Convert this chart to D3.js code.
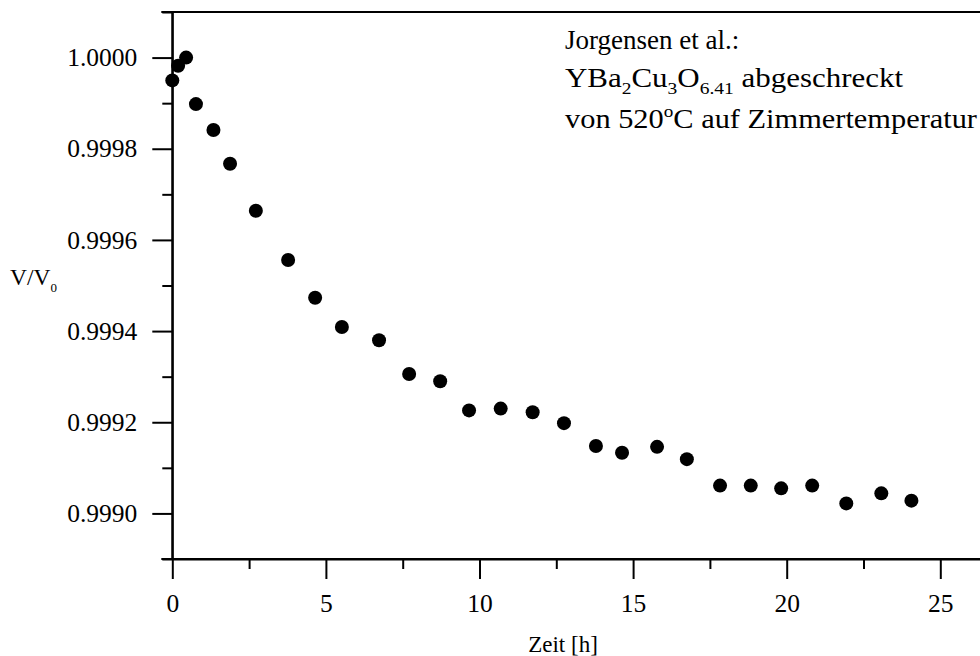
<!DOCTYPE html>
<html>
<head>
<meta charset="utf-8">
<script src="https://cdn.jsdelivr.net/npm/d3@7"></script>
<style>
  html, body { margin: 0; padding: 0; background: #fff; }
  svg { display: block; }
  text { font-family: "Liberation Serif", "Times New Roman", serif; fill: #000; }
</style>
</head>
<body>
<svg id="chart" width="980" height="656"></svg>
<script>
// time in hours
const timeH = [0.0, 0.19, 0.45, 0.77, 1.34, 1.88, 2.72, 3.77, 4.65, 5.52, 6.73, 7.71, 8.72, 9.66,
               10.69, 11.73, 12.75, 13.79, 14.64, 15.78, 16.75, 17.83, 18.83, 19.82, 20.83, 21.94, 23.08, 24.06];
// relative volume V/V0
const volRatio = [0.99995, 0.999982, 1.0000, 0.999898, 0.999841, 0.999767, 0.999664, 0.999556, 0.999473,
                  0.999409, 0.999380, 0.999306, 0.999290, 0.999226, 0.999230, 0.999222, 0.999198, 0.999148,
                  0.999133, 0.999146, 0.999119, 0.999061, 0.999061, 0.999055, 0.999061, 0.999022, 0.999044, 0.999028];
const xMajorTicks = [0, 5, 10, 15, 20, 25];
const xMinorTicks = [2.5, 7.5, 12.5, 17.5, 22.5];
const yMajorTicks = [0.9990, 0.9992, 0.9994, 0.9996, 0.9998, 1.0000];
const yMinorTicks = [0.9989, 0.9991, 0.9993, 0.9995, 0.9997, 0.9999, 1.0001];

(function () {
const svg = d3.select("#chart");
const serif = '"Liberation Serif", "Times New Roman", serif';
const leftX = 172.3, topY = 12, bottomY = 559;
const x = d3.scaleLinear().domain([0, 27]).range([leftX, leftX + 27 * 30.72]);
const y = d3.scaleLinear().domain([0.9989, 1.0001]).range([bottomY, topY]);

const axisW = 2;

// points
svg.append("g").selectAll("circle")
  .data(timeH.map((t, i) => [t, volRatio[i]]))
  .join("circle")
  .attr("cx", d => x(d[0]))
  .attr("cy", d => y(d[1]))
  .attr("r", 7)
  .attr("fill", "#000");

// left axis major
const gy = svg.append("g").attr("transform", `translate(${leftX},0)`)
  .call(d3.axisLeft(y).tickValues(yMajorTicks).tickFormat(d3.format(".4f")).tickSizeInner(20).tickSizeOuter(0).tickPadding(15));
const gyMinor = svg.append("g").attr("transform", `translate(${leftX},0)`)
  .call(d3.axisLeft(y).tickValues(yMinorTicks).tickFormat("").tickSizeInner(10).tickSizeOuter(0));
// bottom axis
const gx = svg.append("g").attr("transform", `translate(0,${bottomY})`)
  .call(d3.axisBottom(x).tickValues(xMajorTicks).tickFormat(d3.format("d")).tickSizeInner(20).tickSizeOuter(0).tickPadding(16));
const gxMinor = svg.append("g").attr("transform", `translate(0,${bottomY})`)
  .call(d3.axisBottom(x).tickValues(xMinorTicks).tickFormat("").tickSizeInner(10).tickSizeOuter(0));
// top axis
const gt = svg.append("g").attr("transform", `translate(0,${topY})`)
  .call(d3.axisTop(x).tickValues(xMajorTicks.concat(xMinorTicks)).tickFormat("").tickSizeInner(1).tickSizeOuter(0));

[gy, gyMinor, gx, gxMinor, gt].forEach(g => {
  g.attr("font-family", null);
  g.selectAll("path.domain").attr("stroke", "#000").attr("stroke-width", axisW);
  g.selectAll(".tick line").attr("stroke", "#000").attr("stroke-width", axisW);
  g.selectAll("text").style("font-family", serif).style("font-size", "25.5px").attr("fill", "#000");
});
gy.select("path.domain").attr("d", `M0,${topY}V${bottomY}`);
gx.select("path.domain").attr("d", `M${leftX - 11},0H980`);
gt.select("path.domain").attr("d", `M${leftX - 11},0H980`);
gx.selectAll("text").attr("dy", null).attr("y", 53);

// axis titles
svg.append("text").attr("x", 563).attr("y", 652).attr("text-anchor", "middle")
  .style("font-size", "23px").text("Zeit [h]");
const yl = svg.append("text").attr("x", 10).attr("y", 285).style("font-size", "23.5px");
yl.append("tspan").text("V/V");
yl.append("tspan").style("font-size", "13px").attr("dy", 7).text("0");

// annotation
const ann = svg.append("g").style("font-size", "27px");
ann.append("text").attr("x", 565).attr("y", 49).text("Jorgensen et al.:");
const l2 = ann.append("text").attr("x", 565).attr("y", 87)
  .attr("textLength", 338).attr("lengthAdjust", "spacingAndGlyphs");
l2.append("tspan").text("YBa");
l2.append("tspan").style("font-size", "17px").attr("dy", 7).text("2");
l2.append("tspan").attr("dy", -7).text("Cu");
l2.append("tspan").style("font-size", "17px").attr("dy", 7).text("3");
l2.append("tspan").attr("dy", -7).text("O");
l2.append("tspan").style("font-size", "17px").attr("dy", 7).text("6.41");
l2.append("tspan").attr("dy", -7).text(" abgeschreckt");
const l3 = ann.append("text").attr("x", 565).attr("y", 128)
  .attr("textLength", 412).attr("lengthAdjust", "spacingAndGlyphs");
l3.append("tspan").text("von 520");
l3.append("tspan").style("font-size", "17px").attr("dy", -11).text("o");
l3.append("tspan").attr("dy", 11).text("C auf Zimmertemperatur");
})();
</script>
</body>
</html>
